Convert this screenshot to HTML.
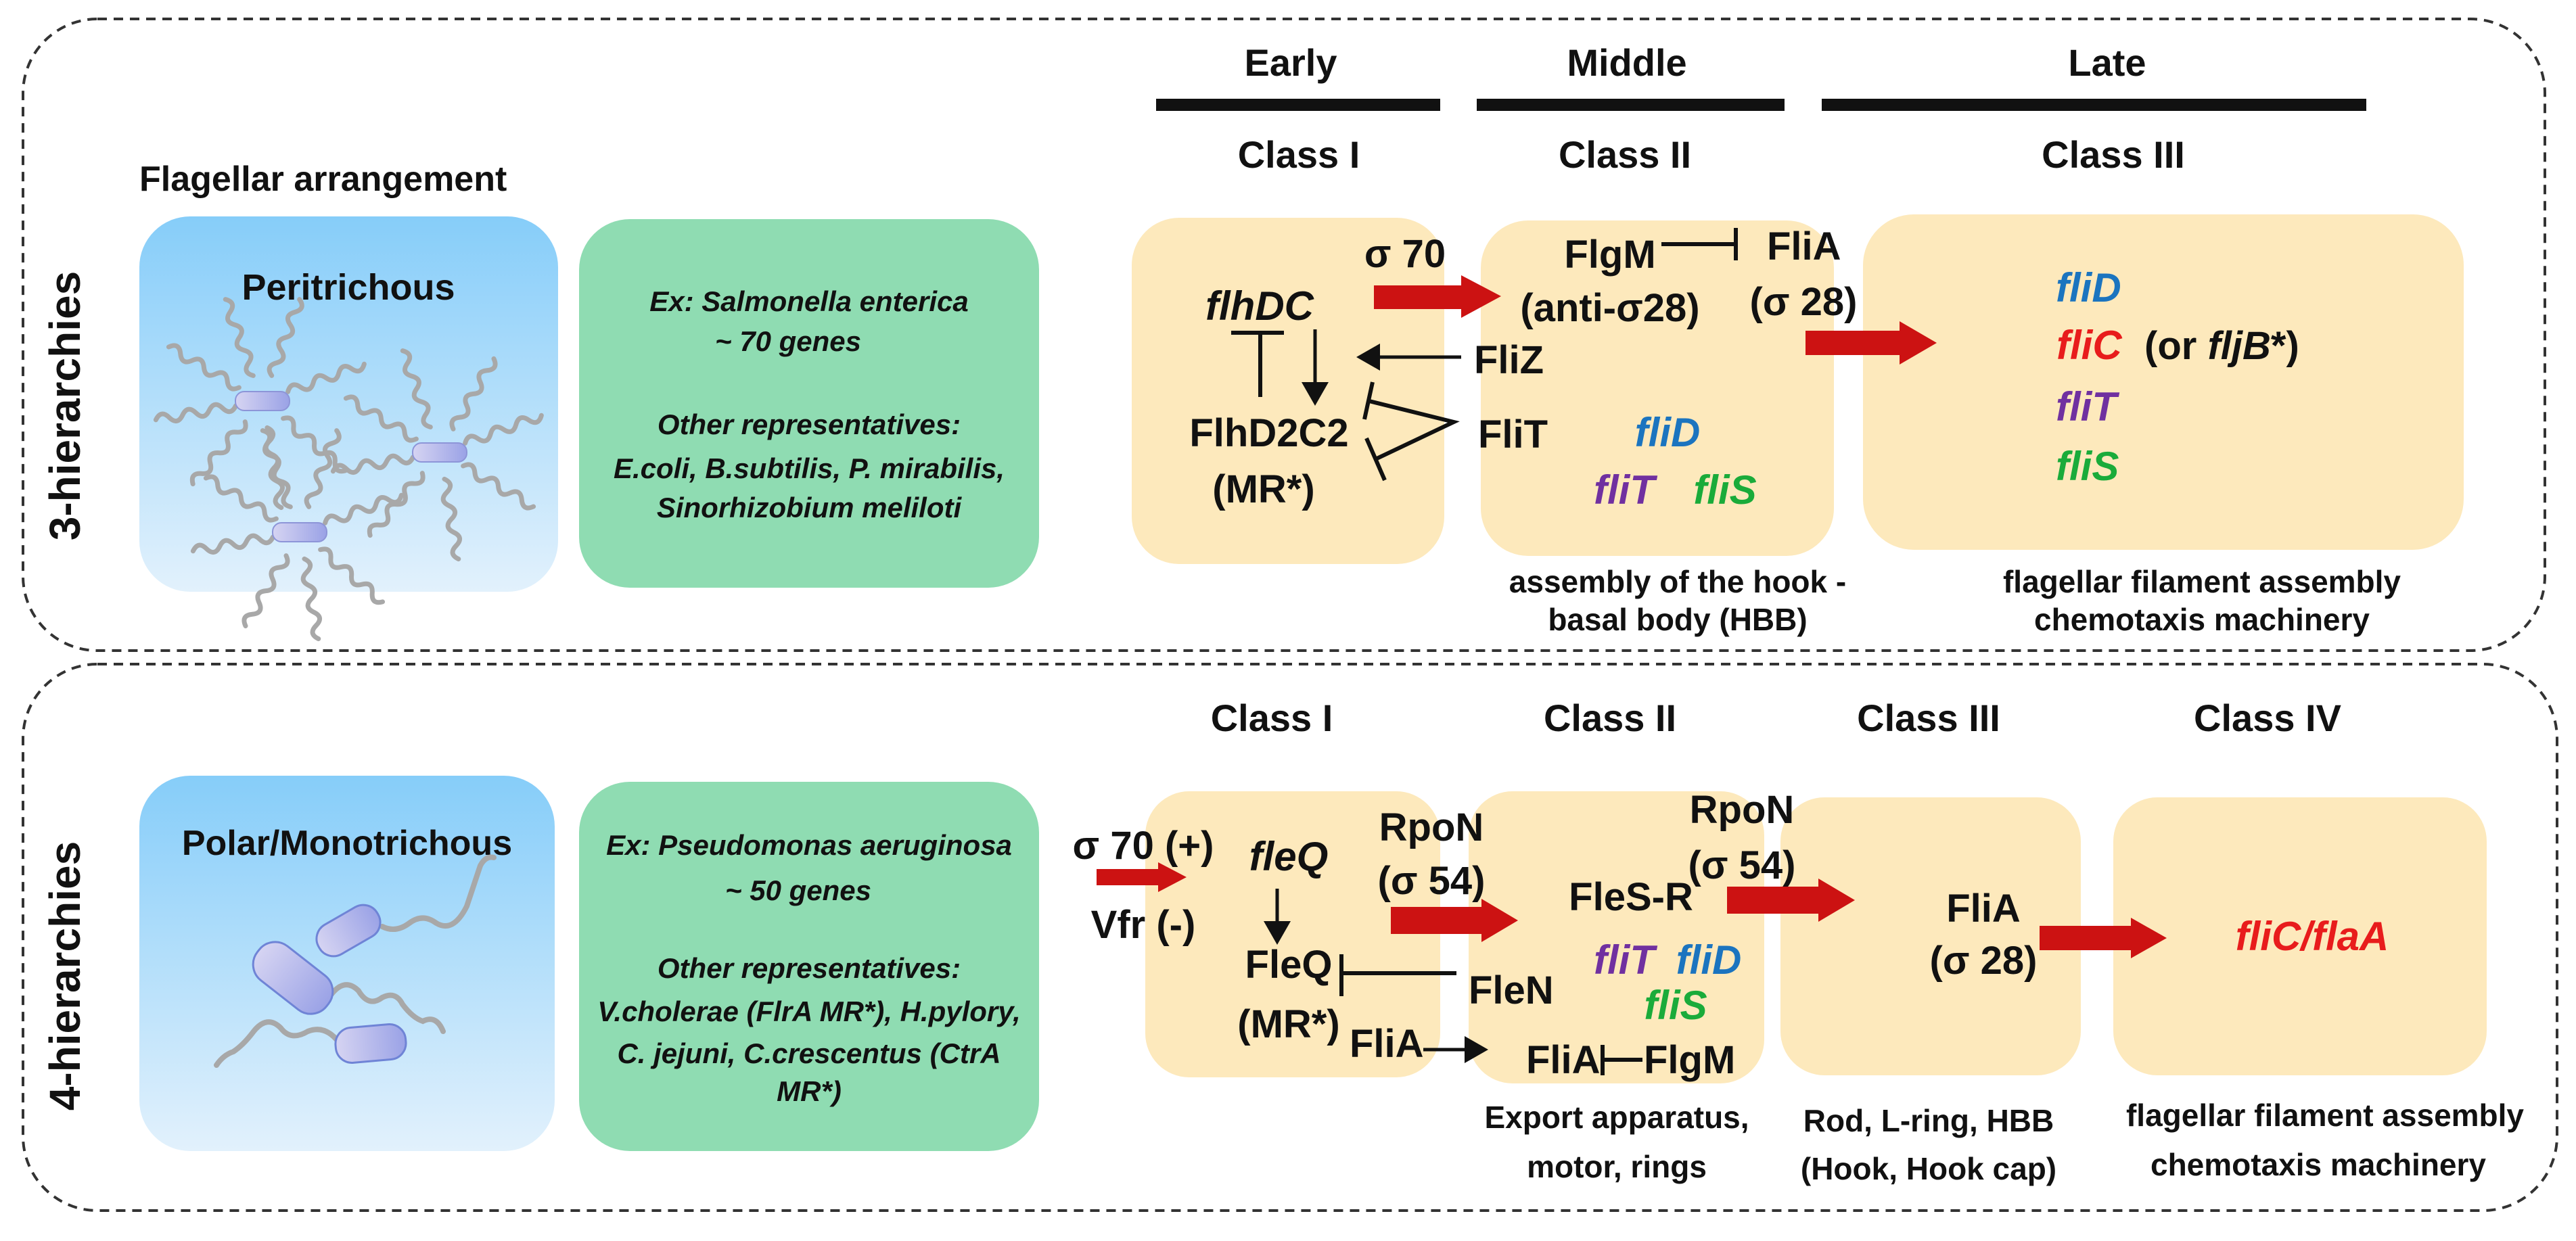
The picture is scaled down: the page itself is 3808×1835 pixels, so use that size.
<!DOCTYPE html>
<html><head><meta charset="utf-8"><style>
html,body{margin:0;padding:0;background:#fff;}
svg{display:block;}
text{font-family:"Liberation Sans",sans-serif;font-weight:bold;fill:#111;}
.h{font-size:56px;}
.n{font-size:58px;}
.g{font-size:60px;font-style:italic;}
.c{font-size:46px;}
.e{font-size:42px;font-style:italic;}
.m{text-anchor:middle;}
</style></head><body>
<svg width="3808" height="1835" viewBox="0 0 3808 1835" xmlns="http://www.w3.org/2000/svg">
<defs>
<linearGradient id="bl" x1="0" y1="0" x2="0" y2="1"><stop offset="0" stop-color="#86cdf9"/><stop offset="1" stop-color="#e2f1fc"/></linearGradient>
<linearGradient id="cap" x1="0" y1="0" x2="1" y2="0"><stop offset="0" stop-color="#d6d4f2"/><stop offset="1" stop-color="#9aa2e6"/></linearGradient>
<marker id="ah" markerWidth="8" markerHeight="8" refX="6" refY="4" orient="auto" markerUnits="strokeWidth"><path d="M0,0 L7,4 L0,8 z" fill="#111"/></marker>
<g id="fl"><path d="M40 0 q10 -14 20 0 t20 0 t20 0 t20 0 t20 0 t20 0" fill="none" stroke="#a8a8a8" stroke-width="7" stroke-linecap="round"/></g>
</defs>

<!-- dashed frames -->
<rect x="34" y="28" width="3728" height="934" rx="110" fill="none" stroke="#333" stroke-width="4" stroke-dasharray="14 10"/>
<rect x="34" y="982" width="3746" height="808" rx="110" fill="none" stroke="#333" stroke-width="4" stroke-dasharray="14 10"/>

<!-- side labels -->
<text class="m" transform="translate(118,600) rotate(-90)" style="font-size:64px">3-hierarchies</text>
<text class="m" transform="translate(118,1443) rotate(-90)" style="font-size:64px">4-hierarchies</text>

<text x="206" y="282" style="font-size:52px">Flagellar arrangement</text>

<!-- top left boxes -->
<rect x="206" y="320" width="619" height="555" rx="75" fill="url(#bl)"/>
<text class="m" x="515" y="443" style="font-size:54px">Peritrichous</text>
<g>
<g transform="translate(388,593)">
<use href="#fl" transform="rotate(-110)"/><use href="#fl" transform="rotate(-70)"/><use href="#fl" transform="rotate(-150)"/><use href="#fl" transform="rotate(170)"/><use href="#fl" transform="rotate(130)"/><use href="#fl" transform="rotate(80)"/><use href="#fl" transform="rotate(40)"/><use href="#fl" transform="rotate(-20)"/>
<rect x="-40" y="-14" width="80" height="28" rx="13" fill="url(#cap)" stroke="#8d95d8" stroke-width="2"/></g>
<g transform="translate(650,669)">
<use href="#fl" transform="rotate(-110)"/><use href="#fl" transform="rotate(-60)"/><use href="#fl" transform="rotate(-150)"/><use href="#fl" transform="rotate(170)"/><use href="#fl" transform="rotate(130)"/><use href="#fl" transform="rotate(80)"/><use href="#fl" transform="rotate(30)"/><use href="#fl" transform="rotate(-20)"/>
<rect x="-40" y="-14" width="80" height="28" rx="13" fill="url(#cap)" stroke="#8d95d8" stroke-width="2"/></g>
<g transform="translate(443,787)">
<use href="#fl" transform="rotate(-110)"/><use href="#fl" transform="rotate(-70)"/><use href="#fl" transform="rotate(-150)"/><use href="#fl" transform="rotate(170)"/><use href="#fl" transform="rotate(120)"/><use href="#fl" transform="rotate(80)"/><use href="#fl" transform="rotate(40)"/><use href="#fl" transform="rotate(-20)"/>
<rect x="-40" y="-14" width="80" height="28" rx="13" fill="url(#cap)" stroke="#8d95d8" stroke-width="2"/></g>
</g>

<rect x="856" y="324" width="680" height="545" rx="75" fill="#8fdcb2"/>
<text class="e m" x="1196" y="460">Ex: Salmonella enterica</text>
<text class="e m" x="1165" y="519">~ 70 genes</text>
<text class="e m" x="1196" y="642">Other representatives:</text>
<text class="e m" x="1196" y="707">E.coli, B.subtilis, P. mirabilis,</text>
<text class="e m" x="1196" y="765">Sinorhizobium meliloti</text>

<!-- top headers -->
<text class="h m" x="1908" y="112">Early</text>
<text class="h m" x="2405" y="112">Middle</text>
<text class="h m" x="3115" y="112">Late</text>
<line x1="1709" y1="155" x2="2129" y2="155" stroke="#111" stroke-width="18"/>
<line x1="2183" y1="155" x2="2638" y2="155" stroke="#111" stroke-width="18"/>
<line x1="2693" y1="155" x2="3498" y2="155" stroke="#111" stroke-width="18"/>
<text class="h m" x="1920" y="248">Class I</text>
<text class="h m" x="2402" y="248">Class II</text>
<text class="h m" x="3124" y="248">Class III</text>

<!-- top yellow boxes -->
<rect x="1673" y="322" width="462" height="512" rx="70" fill="#fde9bc"/>
<rect x="2189" y="326" width="522" height="496" rx="70" fill="#fde9bc"/>
<rect x="2754" y="317" width="888" height="496" rx="75" fill="#fde9bc"/>

<text class="n m" x="2077" y="395">σ 70</text>
<polygon points="2031,422 2160,422 2160,407 2219,438 2160,470 2160,457 2031,457" fill="#cc1212"/>
<text class="g m" x="1862" y="473">flhDC</text>
<line x1="1863" y1="492" x2="1863" y2="587" stroke="#111" stroke-width="6"/>
<line x1="1820" y1="492" x2="1898" y2="492" stroke="#111" stroke-width="6"/>
<line x1="1944" y1="487" x2="1944" y2="595" stroke="#111" stroke-width="5" marker-end="url(#ah)"/>
<text class="n m" x="1876" y="660">FlhD2C2</text>
<text class="n m" x="1868" y="743">(MR*)</text>
<line x1="2160" y1="528" x2="2010" y2="528" stroke="#111" stroke-width="5" marker-end="url(#ah)"/>
<text class="n" x="2179" y="552">FliZ</text>
<text class="n" x="2185" y="662">FliT</text>
<polyline points="2024,593 2149,624 2031,680" fill="none" stroke="#111" stroke-width="6"/>
<line x1="2029" y1="565" x2="2017" y2="620" stroke="#111" stroke-width="6"/>
<line x1="2020" y1="648" x2="2047" y2="710" stroke="#111" stroke-width="6"/>

<text class="n m" x="2380" y="396">FlgM</text>
<line x1="2456" y1="361" x2="2566" y2="361" stroke="#111" stroke-width="6"/>
<line x1="2566" y1="337" x2="2566" y2="385" stroke="#111" stroke-width="6"/>
<text class="n" x="2612" y="384">FliA</text>
<text class="n m" x="2380" y="475">(anti-σ28)</text>
<text class="n m" x="2666" y="466">(σ 28)</text>
<text class="g m" x="2465" y="660" style="fill:#1b74bf">fliD</text>
<text class="g m" x="2401" y="745" style="fill:#7030a0">fliT</text>
<text class="g m" x="2550" y="745" style="fill:#1aab3a">fliS</text>
<polygon points="2669,489 2808,489 2808,475 2863,507 2808,539 2808,525 2669,525" fill="#cc1212"/>

<text class="g" x="3039" y="446" style="fill:#1b74bf">fliD</text>
<text class="g" x="3040" y="531" style="fill:#e81c1c">fliC</text>
<text class="n" x="3170" y="531">(or <tspan font-style="italic">fljB</tspan>*)</text>
<text class="g" x="3039" y="622" style="fill:#7030a0">fliT</text>
<text class="g" x="3039" y="710" style="fill:#1aab3a">fliS</text>

<text class="c m" x="2480" y="876">assembly of the hook -</text>
<text class="c m" x="2480" y="932">basal body (HBB)</text>
<text class="c m" x="3255" y="876">flagellar filament assembly</text>
<text class="c m" x="3255" y="932">chemotaxis machinery</text>

<!-- bottom left boxes -->
<rect x="206" y="1147" width="614" height="555" rx="75" fill="url(#bl)"/>
<text class="m" x="513" y="1264" style="font-size:52px">Polar/Monotrichous</text>
<g fill="none" stroke="#a8a8a8" stroke-width="8" stroke-linecap="round">
<path d="M565,1370 q20,10 40,-5 q20,-15 40,0 q25,15 45,-25 q10,-30 20,-60 q8,-15 20,-12"/>
<path d="M490,1470 q20,-25 40,-5 q15,25 35,10 q20,-10 30,10 q15,20 30,25 q20,-10 30,15"/>
<path d="M500,1540 q-20,-25 -45,-15 q-25,15 -40,-5 q-20,-20 -40,5 q-15,20 -30,30 q-15,5 -25,20"/>
</g>
<rect x="-50" y="-25" width="100" height="50" rx="24" fill="url(#cap)" stroke="#6f84d6" stroke-width="3" transform="translate(515,1376) rotate(-30)"/>
<rect x="-65" y="-32" width="130" height="64" rx="30" fill="url(#cap)" stroke="#6f84d6" stroke-width="3" transform="translate(433,1446) rotate(38)"/>
<rect x="-52" y="-26" width="104" height="52" rx="24" fill="url(#cap)" stroke="#6f84d6" stroke-width="3" transform="translate(548,1543) rotate(-5)"/>

<rect x="856" y="1156" width="680" height="546" rx="75" fill="#8fdcb2"/>
<text class="e m" x="1196" y="1264">Ex: Pseudomonas aeruginosa</text>
<text class="e m" x="1180" y="1331">~ 50 genes</text>
<text class="e m" x="1196" y="1446">Other representatives:</text>
<text class="e m" x="1196" y="1510">V.cholerae (FlrA MR*), H.pylory,</text>
<text class="e m" x="1196" y="1572">C. jejuni, C.crescentus (CtrA</text>
<text class="e m" x="1196" y="1628">MR*)</text>

<!-- bottom headers -->
<text class="h m" x="1880" y="1081">Class I</text>
<text class="h m" x="2380" y="1081">Class II</text>
<text class="h m" x="2851" y="1081">Class III</text>
<text class="h m" x="3352" y="1081">Class IV</text>

<rect x="1693" y="1170" width="436" height="423" rx="65" fill="#fde9bc"/>
<rect x="2171" y="1170" width="437" height="432" rx="65" fill="#fde9bc"/>
<rect x="2632" y="1179" width="444" height="411" rx="65" fill="#fde9bc"/>
<rect x="3124" y="1179" width="552" height="411" rx="65" fill="#fde9bc"/>

<text class="n m" x="1690" y="1270">σ 70 (+)</text>
<polygon points="1621,1285 1712,1285 1712,1275 1754,1297 1712,1319 1712,1309 1621,1309" fill="#cc1212"/>
<text class="n m" x="1690" y="1387">Vfr (-)</text>
<text class="g m" x="1905" y="1287">fleQ</text>
<line x1="1888" y1="1314" x2="1888" y2="1392" stroke="#111" stroke-width="5" marker-end="url(#ah)"/>
<text class="n m" x="1905" y="1446">FleQ</text>
<text class="n m" x="1905" y="1534">(MR*)</text>
<text class="n m" x="2116" y="1243">RpoN</text>
<text class="n m" x="2116" y="1322">(σ 54)</text>
<polygon points="2056,1341 2190,1341 2190,1329 2244,1361 2190,1393 2190,1381 2056,1381" fill="#cc1212"/>
<line x1="1983" y1="1439" x2="2153" y2="1439" stroke="#111" stroke-width="6"/>
<line x1="1983" y1="1411" x2="1983" y2="1473" stroke="#111" stroke-width="6"/>
<text class="n" x="2171" y="1484">FleN</text>
<text class="n" x="1995" y="1563">FliA</text>
<line x1="2104" y1="1552" x2="2195" y2="1552" stroke="#111" stroke-width="5" marker-end="url(#ah)"/>

<text class="n m" x="2411" y="1346">FleS-R</text>
<text class="n m" x="2575" y="1217">RpoN</text>
<text class="n m" x="2575" y="1299">(σ 54)</text>
<polygon points="2553,1311 2688,1311 2688,1299 2742,1331 2688,1363 2688,1351 2553,1351" fill="#cc1212"/>
<text class="g m" x="2401" y="1440" style="fill:#7030a0">fliT</text>
<text class="g m" x="2526" y="1440" style="fill:#1b74bf">fliD</text>
<text class="g m" x="2477" y="1507" style="fill:#1aab3a">fliS</text>
<text class="n" x="2256" y="1587">FliA</text>
<line x1="2369" y1="1545" x2="2369" y2="1590" stroke="#111" stroke-width="6"/>
<line x1="2369" y1="1567" x2="2428" y2="1567" stroke="#111" stroke-width="6"/>
<text class="n" x="2430" y="1587">FlgM</text>

<text class="n m" x="2932" y="1363">FliA</text>
<text class="n m" x="2932" y="1440">(σ 28)</text>
<polygon points="3015,1369 3150,1369 3150,1357 3203,1387 3150,1417 3150,1405 3015,1405" fill="#cc1212"/>
<text class="g m" x="3418" y="1405" style="fill:#e81c1c">fliC/flaA</text>

<text class="c m" x="2390" y="1668">Export apparatus,</text>
<text class="c m" x="2390" y="1741">motor, rings</text>
<text class="c m" x="2851" y="1673">Rod, L-ring, HBB</text>
<text class="c m" x="2851" y="1744">(Hook, Hook cap)</text>
<text class="c m" x="3437" y="1665">flagellar filament assembly</text>
<text class="c m" x="3427" y="1738">chemotaxis machinery</text>
</svg>
</body></html>
